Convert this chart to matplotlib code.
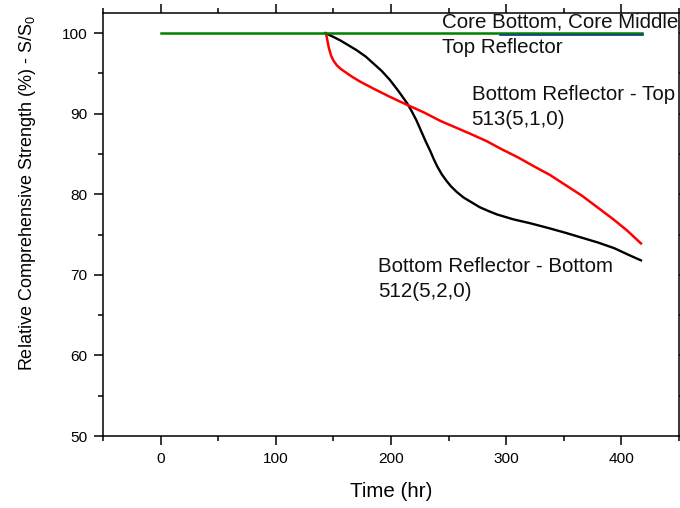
import matplotlib.pyplot as plt
import numpy as np

plt.rcParams['font.family'] = ['Liberation Sans', 'DejaVu Sans']
plt.rcParams['mathtext.fontset'] = 'custom'
plt.rcParams['mathtext.rm'] = 'Liberation Sans'
plt.rcParams['mathtext.it'] = 'Liberation Sans'

# donnees (partie plate a 100 cachee sous la ligne verte)
green_t = [0, 418]
green_s = [100, 100]

blue_t = [295, 418]
blue_s = [99.85, 99.85]

black_t = [143, 149, 156, 163, 170, 178, 185, 192, 199, 206, 214, 218, 222,
           226, 230, 234, 237, 240, 244, 248, 252, 257, 263, 270, 277, 285, 292,
           306, 321, 337, 352, 366, 380, 394, 406, 417]
black_s = [100, 99.6, 99.1, 98.5, 97.9, 97.1, 96.2, 95.3, 94.2, 92.9, 91.3,
           90.3, 89.2, 87.9, 86.6, 85.4, 84.4, 83.5, 82.5, 81.7, 81.0, 80.3,
           79.6, 79.0, 78.4, 77.9, 77.5, 76.9, 76.4, 75.8, 75.2, 74.6, 74.0,
           73.3, 72.5, 71.8]

red_t = [143.5, 144.5, 146, 148, 150, 153, 156, 165, 173, 185, 199, 214, 228,
         243, 256, 269, 283, 296, 310, 325, 338, 352, 366, 380, 393, 405, 417]
red_s = [100, 99.3, 98.2, 97.2, 96.6, 96.0, 95.6, 94.7, 94.0, 93.1, 92.1,
         91.1, 90.2, 89.1, 88.3, 87.5, 86.6, 85.6, 84.6, 83.4, 82.4, 81.1, 79.8,
         78.3, 76.9, 75.5, 73.9]

labels = ["Core Bottom, Core Middle", "Top Reflector",
          "Bottom Reflector - Top", "513(5,1,0)",
          "Bottom Reflector - Bottom", "512(5,2,0)"]
label_t = [244, 244, 270, 270, 189, 189]
label_s = [100.7, 97.5, 91.7, 88.6, 70.3, 67.2]

fig = plt.figure(figsize=(6.8, 5.08), dpi=100)
ax = fig.add_axes([0.1515, 0.1417, 0.847, 0.8327])

ax.plot(black_t, black_s, color='black', lw=1.7)
ax.plot(red_t, red_s, color='#ff0000', lw=1.8)
ax.plot(blue_t, blue_s, color='#0000cc', lw=1.8)
ax.plot(green_t, green_s, color='#008000', lw=1.8)

for lab, t, s in zip(labels, label_t, label_s):
    ax.text(t, s, lab, fontsize=14.8, va='baseline', ha='left', color='#111111')

ax.set_xlim(-50, 450)
ax.set_ylim(50, 102.5)
ax.set_xticks([0, 100, 200, 300, 400])
ax.set_xticks([-50, 50, 150, 250, 350, 450], minor=True)
ax.set_yticks([50, 60, 70, 80, 90, 100])
ax.set_yticks([55, 65, 75, 85, 95], minor=True)

ax.tick_params(which='both', direction='out', top=True, right=True, width=1.1,
               labelsize=11.1, pad=5)
ax.tick_params(which='major', length=6.3)
ax.tick_params(which='minor', length=3.8)
for sp in ax.spines.values():
    sp.set_linewidth(1.1)

ax.set_xlabel("Time (hr)", fontsize=14.8, labelpad=12)
ax.set_ylabel("Relative Comprehensive Strength (%) - S/S$_0$", fontsize=13)
ax.yaxis.set_label_coords(-0.113, 0.574)

fig.savefig("out.png", dpi=100)
